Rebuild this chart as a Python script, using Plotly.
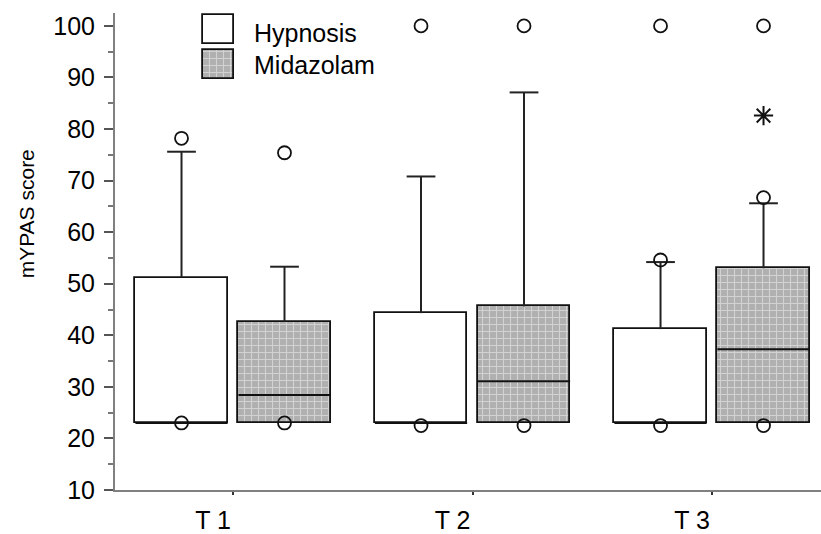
import plotly.graph_objects as go

# ---- data ----
categories = ["T 1", "T 2", "T 3"]
cat_pos = [0, 1, 2]

hyp_q1 = [23, 23, 23]
hyp_median = [23, 23, 23]
hyp_q3 = [51.2, 44.3, 41.2]
hyp_whisker = [75.6, 70.8, 54.2]
hyp_out_cat = [0, 0, 1, 1, 2, 2, 2]
hyp_out_val = [78.2, 23, 100, 22.5, 100, 54.6, 22.5]

mid_q1 = [23, 23, 23]
mid_median = [28.4, 31.1, 37.3]
mid_q3 = [42.6, 45.6, 53.0]
mid_whisker = [53.3, 87.1, 65.6]
mid_out_cat = [0, 0, 1, 1, 2, 2, 2]
mid_out_val = [75.4, 23, 100, 22.5, 100, 66.7, 22.5]
mid_ext_cat = [2]
mid_ext_val = [82.6]

# ---- styling constants ----
OFF = 0.215
BW = 0.385
CAP = 0.06
FONT = "Liberation Sans, Arial, sans-serif"
MID_PATTERN = dict(shape="+", fgcolor="#f4f4f4", bgcolor="#b0b0b0", size=7, solidity=0.28)

fig = go.Figure()


def add_group(sign, q1, med, q3, wh, out_c, out_v, pattern):
    xs = [c + sign * OFF for c in cat_pos]
    # box body
    fig.add_trace(go.Bar(
        x=xs, y=[b - a for a, b in zip(q1, q3)], base=q1, width=BW,
        marker=dict(color="white" if pattern is None else "#b0b0b0",
                    line=dict(color="#111", width=1.8),
                    pattern=pattern if pattern else dict(shape="")),
        showlegend=False, hoverinfo="skip"))
    # whiskers (vertical stem + cap)
    wx, wy = [], []
    for x, q, w in zip(xs, q3, wh):
        wx += [x, x, None, x - CAP, x + CAP, None]
        wy += [q, w, None, w, w, None]
    fig.add_trace(go.Scatter(x=wx, y=wy, mode="lines", line=dict(color="#222", width=2),
                             showlegend=False, hoverinfo="skip"))
    # medians
    mx, my = [], []
    for x, m in zip(xs, med):
        mx += [x - BW / 2, x + BW / 2, None]
        my += [m, m, None]
    fig.add_trace(go.Scatter(x=mx, y=my, mode="lines", line=dict(color="#111", width=2),
                             showlegend=False, hoverinfo="skip"))
    # outliers
    fig.add_trace(go.Scatter(
        x=[c + sign * OFF for c in out_c], y=out_v, mode="markers",
        marker=dict(symbol="circle-open", size=13, color="#111", line=dict(width=1.8)),
        showlegend=False, hoverinfo="skip", cliponaxis=False))


add_group(-1, hyp_q1, hyp_median, hyp_q3, hyp_whisker, hyp_out_cat, hyp_out_val, None)
add_group(1, mid_q1, mid_median, mid_q3, mid_whisker, mid_out_cat, mid_out_val, MID_PATTERN)

# extreme value
fig.add_trace(go.Scatter(
    x=[c + OFF for c in mid_ext_cat], y=mid_ext_val, mode="markers",
    marker=dict(symbol="asterisk-open", size=16, color="#111", line=dict(width=2, color="#111")),
    showlegend=False, hoverinfo="skip"))

# ---- custom legend (large swatches like the original) ----
LEG_X = -0.0605
LEG_W = 0.129
fig.add_trace(go.Bar(x=[LEG_X], y=[5.7], base=[96.4], width=LEG_W,
                     marker=dict(color="white", line=dict(color="#111", width=1.8)),
                     showlegend=False, hoverinfo="skip"))
fig.add_trace(go.Bar(x=[LEG_X], y=[5.7], base=[89.7], width=LEG_W,
                     marker=dict(color="#b0b0b0", line=dict(color="#111", width=1.8),
                                 pattern=MID_PATTERN),
                     showlegend=False, hoverinfo="skip"))
for label, yv in [("Hypnosis", 98.6), ("Midazolam", 92.4)]:
    fig.add_annotation(x=LEG_X + LEG_W / 2 + 0.075, y=yv, xref="x", yref="y",
                       text=label, showarrow=False, xanchor="left", yanchor="middle",
                       font=dict(family=FONT, size=25, color="#000"))

# y title
fig.add_annotation(x=-0.125, y=63.6, xref="paper", yref="y", text="mYPAS score",
                   textangle=-90, showarrow=False, xanchor="center", yanchor="middle",
                   font=dict(family=FONT, size=21, color="#000"))

fig.update_layout(
    width=821, height=534,
    margin=dict(l=115, r=0, t=13, b=38),
    plot_bgcolor="white", paper_bgcolor="white",
    barmode="overlay", bargap=0,
    showlegend=False,
    xaxis=dict(range=[-0.4927, 2.455], tickvals=cat_pos, ticktext=categories,
               showgrid=False, zeroline=False, showline=True, linecolor="#808080", linewidth=2,
               ticks="outside", ticklen=3, tickwidth=2, tickcolor="#333",
               ticklabelshift=-20, ticklabelstandoff=4,
               tickfont=dict(family=FONT, size=25, color="#000")),
    yaxis=dict(range=[10, 102.5], tickvals=[10, 20, 30, 40, 50, 60, 70, 80, 90, 100],
               showgrid=False, zeroline=False, showline=True, linecolor="#808080", linewidth=2,
               ticks="outside", ticklen=9, tickwidth=1.5, tickcolor="#555",
               minor=dict(tickvals=[15, 25, 35, 45, 55, 65, 75, 85, 95], ticklen=5,
                          tickwidth=1.5, tickcolor="#777", ticks="outside", showgrid=False),
               ticklabelstandoff=4,
               tickfont=dict(family=FONT, size=25, color="#000")),
)

fig.write_html("out.html")
